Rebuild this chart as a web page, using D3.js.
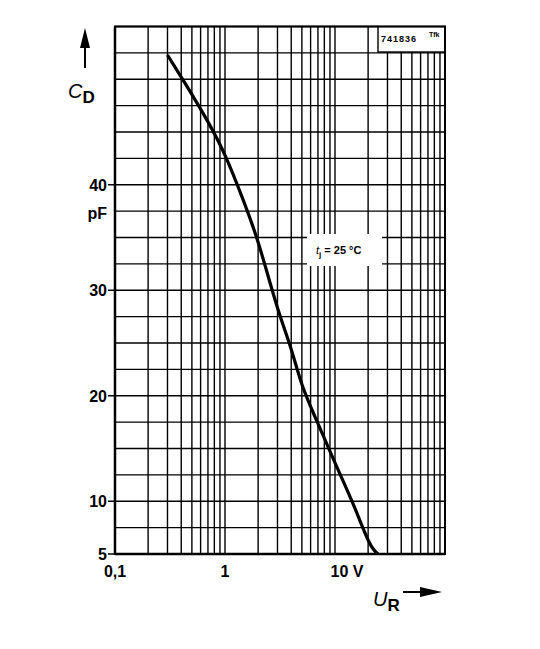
<!DOCTYPE html>
<html><head><meta charset="utf-8">
<script src="https://cdn.jsdelivr.net/npm/d3@7"></script>
<style>body{margin:0;background:#fff}text{font-family:"Liberation Sans",Arial,sans-serif;font-weight:bold}</style>
</head><body>
<svg id="c" width="540" height="649"></svg>
<script>
const voltage = [0.3, 0.5, 0.7, 1, 1.5, 2, 3, 4, 5, 6.6, 10, 15, 20.7, 24.6];
const capacitance = [52.3, 48.6, 46, 43, 38.3, 34.8, 28.1, 24.6, 20.8, 18, 13.6, 9.6, 5.7, 5];
const yTicks = [5, 10, 20, 30, 40];
const xTicks = [0.1, 1, 10];
const xTickLabels = ["0,1", "1", "10 V"];

const svg = d3.select("#c");
const x = d3.scaleLog().domain([0.1, 100]).range([115, 445]);
const y = d3.scaleLinear().domain([5, 55]).range([554, 26.5]);

const boxX = 378, boxY = 52;
const g = svg.append("g").attr("stroke", "#000").attr("stroke-width", 1.4);
// horizontal grid every 2.5
d3.range(5, 55.01, 2.5).forEach(v => {
  const yy = y(v);
  g.append("line").attr("x1", 115).attr("x2", (yy < boxY ? boxX : 445)).attr("y1", yy).attr("y2", yy);
});
// vertical log grid
const xs = [];
[0.1, 1, 10].forEach(d => { for (let k = 1; k <= 9; k++) xs.push(d * k); });
xs.push(100);
xs.forEach(v => {
  const xx = x(v);
  g.append("line").attr("x1", xx).attr("x2", xx).attr("y1", xx > boxX + 1 && xx < 444 ? boxY : y(55)).attr("y2", 554);
});
// box around top-right label
g.append("rect").attr("x", boxX).attr("y", y(55)).attr("width", 445 - boxX).attr("height", boxY - y(55)).attr("fill", "#fff");
// white patch behind temperature label
svg.append("rect").attr("x", 307).attr("y", 234).attr("width", 75).attr("height", 32).attr("fill", "#fff");
// frame
svg.append("rect").attr("x", 115).attr("y", y(55)).attr("width", 330).attr("height", 554 - y(55))
  .attr("fill", "none").attr("stroke", "#000").attr("stroke-width", 2);
svg.append("line").attr("x1", 115).attr("x2", 445).attr("y1", 554).attr("y2", 554).attr("stroke", "#000").attr("stroke-width", 2.5);
svg.append("line").attr("x1", 115).attr("x2", 115).attr("y1", y(55)).attr("y2", 554).attr("stroke", "#000").attr("stroke-width", 2.5);

// ticks
yTicks.forEach(v => {
  svg.append("line").attr("x1", 108).attr("x2", 115).attr("y1", y(v)).attr("y2", y(v)).attr("stroke", "#000").attr("stroke-width", 1.5);
  svg.append("text").attr("x", 107).attr("y", y(v) + 6).attr("text-anchor", "end").attr("font-size", 16).text(v);
});
svg.append("text").attr("x", 107).attr("y", 219).attr("text-anchor", "end").attr("font-size", 16).text("pF");
xTicks.forEach((v, i) => {
  svg.append("text").attr("x", x(v) + (i == 2 ? 12 : 0)).attr("y", 577).attr("text-anchor", "middle").attr("font-size", 16).text(xTickLabels[i]);
});

// curve
svg.append("path").datum(voltage.map((v, i) => [v, capacitance[i]]))
  .attr("fill", "none").attr("stroke", "#000").attr("stroke-width", 3.2)
  .attr("d", d3.line().x(d => x(d[0])).y(d => y(d[1])).curve(d3.curveBasis));

// labels
svg.append("text").attr("x", 381).attr("y", 42).attr("font-size", 9).attr("letter-spacing", 1).text("741836");
svg.append("text").attr("x", 429).attr("y", 37).attr("font-size", 7).text("Tfk");
const tj = svg.append("text").attr("x", 316).attr("y", 254).attr("font-size", 11);
tj.append("tspan").attr("font-style", "italic").attr("font-weight", "normal").text("t");
tj.append("tspan").attr("dy", 3).attr("font-size", 8).text("j");
tj.append("tspan").attr("dy", -3).text(" = 25 °C");

const cd = svg.append("text").attr("x", 68).attr("y", 98).attr("font-size", 20);
cd.append("tspan").attr("font-style", "italic").attr("font-weight", "normal").text("C");
cd.append("tspan").attr("dy", 5).attr("font-size", 17).text("D");
svg.append("line").attr("x1", 85).attr("x2", 85).attr("y1", 68).attr("y2", 42).attr("stroke", "#000").attr("stroke-width", 2);
svg.append("path").attr("d", "M80,48 L85,28 L90,48 Z").attr("fill", "#000");

const ur = svg.append("text").attr("x", 373).attr("y", 606).attr("font-size", 20);
ur.append("tspan").attr("font-style", "italic").attr("font-weight", "normal").text("U");
ur.append("tspan").attr("dy", 5).attr("font-size", 17).text("R");
svg.append("line").attr("x1", 403).attr("x2", 425).attr("y1", 592).attr("y2", 592).attr("stroke", "#000").attr("stroke-width", 2);
svg.append("path").attr("d", "M420,587 L442,592 L420,597 Z").attr("fill", "#000");
</script>
</body></html>
